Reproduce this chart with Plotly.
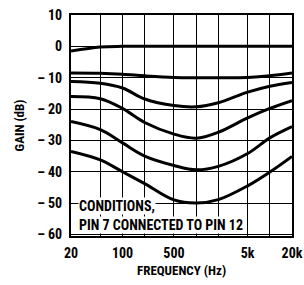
import plotly.graph_objects as go

freq = [20, 50, 100, 200, 500, 1000, 2000, 5000, 10000, 20000]
gain_0 = [-1.5, -0.2, 0, 0, 0, 0, 0, 0, 0, 0]
gain_10 = [-8.5, -8.6, -8.9, -9.4, -9.9, -10, -10, -9.9, -9.4, -8.5]
gain_20 = [-11.2, -11.8, -13.3, -16.8, -18.9, -19.3, -18, -14.6, -12.7, -11.5]
gain_30 = [-16.0, -16.7, -19.8, -24.3, -28, -29.3, -27.4, -22.8, -19.8, -17.3]
gain_40 = [-24, -26.6, -30.8, -35, -38, -39.4, -38.3, -34.2, -29.2, -25.6]
gain_50 = [-33.5, -36.2, -40, -43.8, -49, -50, -48.9, -44.5, -40.1, -35.1]

x_tick_vals = [20, 100, 500, 5000, 20000]
x_tick_text = ["20", "100", "500", "5k", "20k"]
x_grid_vals = [50, 100, 200, 500, 1000, 2000, 5000, 10000]
y_tick_vals = [10, 0, -10, -20, -30, -40, -50, -60]
y_tick_text = ["10", "0", "– 10", "– 20", "– 30", "– 40", "– 50", "– 60"]

FONT = "Roboto Condensed, Open Sans Condensed, sans-serif"

fig = go.Figure()
for g in [gain_0, gain_10, gain_20, gain_30, gain_40, gain_50]:
    fig.add_trace(go.Scatter(x=freq, y=g, mode="lines",
                             line=dict(color="black", width=3, shape="spline", smoothing=1.0),
                             showlegend=False, hoverinfo="skip"))

fig.update_layout(
    width=304, height=285,
    margin=dict(l=71, r=12, t=15, b=48.5),
    paper_bgcolor="white", plot_bgcolor="white",
    font=dict(family=FONT, size=14, color="black", weight="bold"),
    xaxis=dict(type="log", range=[1.30103, 4.30103], automargin=False,
               tickmode="array", tickvals=x_tick_vals, ticktext=x_tick_text,
               showgrid=False, ticks="", ticklabelstandoff=3,
               minor=dict(tickmode="array", tickvals=x_grid_vals, showgrid=True,
                          gridcolor="black", gridwidth=1.3, ticks=""),
               showline=True, mirror=True, linecolor="black", linewidth=2,
               zeroline=False,
               tickfont=dict(family=FONT, size=14, weight="bold")),
    yaxis=dict(range=[-60.5, 10], automargin=False,
               tickmode="array", tickvals=y_tick_vals, ticktext=y_tick_text,
               showgrid=True, gridcolor="black", gridwidth=1.3, ticks="",
               ticklabelstandoff=4, zeroline=False,
               showline=True, mirror=True, linecolor="black", linewidth=2,
               tickfont=dict(family=FONT, size=14, weight="bold")),
    annotations=[
        dict(text="GAIN (dB)", xref="paper", yref="paper", x=-0.231, y=0.5,
             textangle=-90, showarrow=False, xanchor="center", yanchor="middle",
             font=dict(family=FONT, size=13, weight="bold")),
        dict(text="FREQUENCY (Hz)", xref="paper", yref="paper", x=0.5, y=-0.154,
             showarrow=False, xanchor="center", yanchor="middle",
             font=dict(family=FONT, size=13, weight="bold")),
        dict(text="CONDITIONS,", xref="paper", yref="paper",
             x=0.03, y=0.138, xanchor="left", yanchor="middle", align="left",
             showarrow=False, bgcolor="white", borderpad=0,
             font=dict(family=FONT, size=14, weight="bold")),
        dict(text="PIN 7 CONNECTED TO PIN 12", xref="paper", yref="paper",
             x=0.03, y=0.05, xanchor="left", yanchor="middle", align="left",
             showarrow=False, bgcolor="white", borderpad=0,
             font=dict(family=FONT, size=14, weight="bold")),
    ],
)

fig.write_html("out.html", config={"displayModeBar": False},
               post_script="document.body.style.margin='0px';")
